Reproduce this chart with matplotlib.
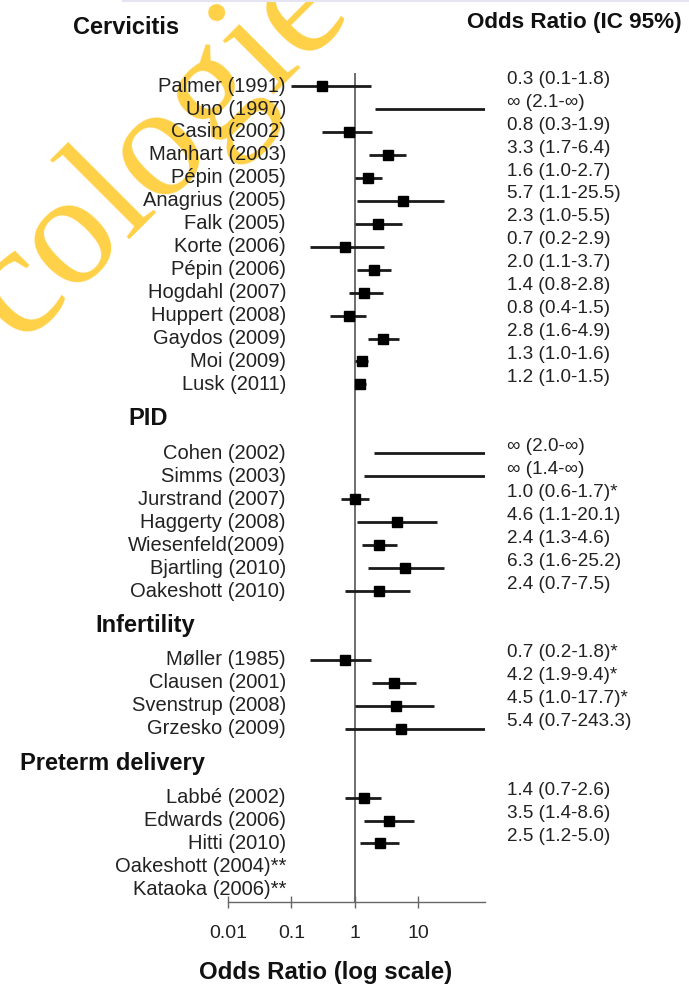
import numpy as np
import matplotlib
matplotlib.use("Agg")
import matplotlib.pyplot as plt
import matplotlib.transforms as mtransforms
from matplotlib.lines import Line2D

plt.rcParams['font.family'] = ['Liberation Sans', 'DejaVu Sans']

# --- data ---
groups = ["Cervicitis", "PID", "Infertility", "Preterm delivery"]
group_sizes = [14, 7, 4, 5]

studies = [
    "Palmer (1991)", "Uno (1997)", "Casin (2002)", "Manhart (2003)", "Pépin (2005)",
    "Anagrius (2005)", "Falk (2005)", "Korte (2006)", "Pépin (2006)", "Hogdahl (2007)",
    "Huppert (2008)", "Gaydos (2009)", "Moi (2009)", "Lusk (2011)",
    "Cohen (2002)", "Simms (2003)", "Jurstrand (2007)", "Haggerty (2008)",
    "Wiesenfeld(2009)", "Bjartling (2010)", "Oakeshott (2010)",
    "Møller (1985)", "Clausen (2001)", "Svenstrup (2008)", "Grzesko (2009)",
    "Labbé (2002)", "Edwards (2006)", "Hitti (2010)", "Oakeshott (2004)**", "Kataoka (2006)**",
]
inf = float("inf")
odds = [0.3, inf, 0.8, 3.3, 1.6, 5.7, 2.3, 0.7, 2.0, 1.4, 0.8, 2.8, 1.3, 1.2,
        inf, inf, 1.0, 4.6, 2.4, 6.3, 2.4,
        0.7, 4.2, 4.5, 5.4,
        1.4, 3.5, 2.5, np.nan, np.nan]
ci_lo = [0.1, 2.1, 0.3, 1.7, 1.0, 1.1, 1.0, 0.2, 1.1, 0.8, 0.4, 1.6, 1.0, 1.0,
         2.0, 1.4, 0.6, 1.1, 1.3, 1.6, 0.7,
         0.2, 1.9, 1.0, 0.7,
         0.7, 1.4, 1.2, np.nan, np.nan]
ci_hi = [1.8, inf, 1.9, 6.4, 2.7, 25.5, 5.5, 2.9, 3.7, 2.8, 1.5, 4.9, 1.6, 1.5,
         inf, inf, 1.7, 20.1, 4.6, 25.2, 7.5,
         1.8, 9.4, 17.7, 243.3,
         2.6, 8.6, 5.0, np.nan, np.nan]
notes = [""] * 16 + ["*"] + [""] * 4 + ["*", "*", "*", ""] + [""] * 5

xticks = [0.01, 0.1, 1, 10]
xtick_labels = ["0.01", "0.1", "1", "10"]


def fmt(v):
    return "\u221e" if np.isinf(v) else f"{v:.1f}"


# row positions: one slot per study, two empty slots between groups
rows = []
header_rows = []
pos = 0
for gi, n in enumerate(group_sizes):
    if gi > 0:
        pos += 2
    header_rows.append(pos - 1.5)
    for k in range(n):
        rows.append(pos)
        pos += 1
rows = np.array(rows, dtype=float)
header_rows[0] = -2.57
header_x = [73, 128, 95, 20]

W, H = 689, 991
fig = plt.figure(figsize=(W / 100, H / 100), dpi=100)

# watermark behind everything
fig.text(20 / W, 1 - 343 / H, "cologie", family="Liberation Serif", fontsize=115,
         color="#FFD147", rotation=45, rotation_mode="anchor",
         ha="left", va="baseline", zorder=-5)
fig.add_artist(Line2D([123 / W, 1], [1 - 1 / H] * 2, color="#E4E4F2", lw=1.5))

ax = fig.add_axes([228 / W, 1 - 902 / H, (485 - 228) / W, (902 - 73) / H])
ax.patch.set_visible(False)
ax.set_xscale("log")
xmax = 10 ** ((485 - 355) / 63.3)
ax.set_xlim(0.01, xmax)
ax.set_ylim(35.55, -0.57)

ax.axvline(1, color="#555555", lw=1.2, zorder=1)

for y, o, lo, hi in zip(rows, odds, ci_lo, ci_hi):
    if np.isnan(lo):
        continue
    ax.plot([lo, min(hi, xmax)], [y, y], color="#1a1a1a", lw=2.0,
            solid_capstyle="butt", zorder=2)
    if np.isfinite(o):
        ax.plot(o, y, marker="s", ms=6.5, color="black", zorder=3)

for s in ["left", "right", "top"]:
    ax.spines[s].set_visible(False)
ax.spines["bottom"].set_color("#666666")
ax.spines["bottom"].set_linewidth(1.0)
ax.set_yticks([])
ax.set_xticks(xticks)
ax.set_xticklabels(xtick_labels)
ax.minorticks_off()
ax.tick_params(axis="x", direction="inout", length=9, width=1.0, color="#666666",
               pad=12, labelsize=14, labelcolor="#222222")

trans = mtransforms.blended_transform_factory(fig.transFigure, ax.transData)
for y, name in zip(rows, studies):
    ax.text(286 / W, y, name, transform=trans, ha="right", va="center",
            fontsize=14.5, color="#222222")

for y, o, lo, hi, nt in zip(rows, odds, ci_lo, ci_hi, notes):
    if np.isnan(lo):
        continue
    ax.text(507 / W, y - 0.3, f"{fmt(o)} ({fmt(lo)}-{fmt(hi)}){nt}", transform=trans,
            ha="left", va="center", fontsize=13.6, color="#222222")

for g, y, x in zip(groups, header_rows, header_x):
    ax.text(x / W, y, g, transform=trans, ha="left", va="center",
            fontsize=17, fontweight="bold", color="#111111")

ax.text(682 / W, -2.79, "Odds Ratio (IC 95%)", transform=trans, ha="right",
        va="center", fontsize=16.2, fontweight="bold", color="#111111")

fig.text(326 / W, 1 - 972 / H, "Odds Ratio (log scale)", ha="center", va="center",
         fontsize=17.3, fontweight="bold", color="#111111")

fig.savefig("out.png", dpi=100)
